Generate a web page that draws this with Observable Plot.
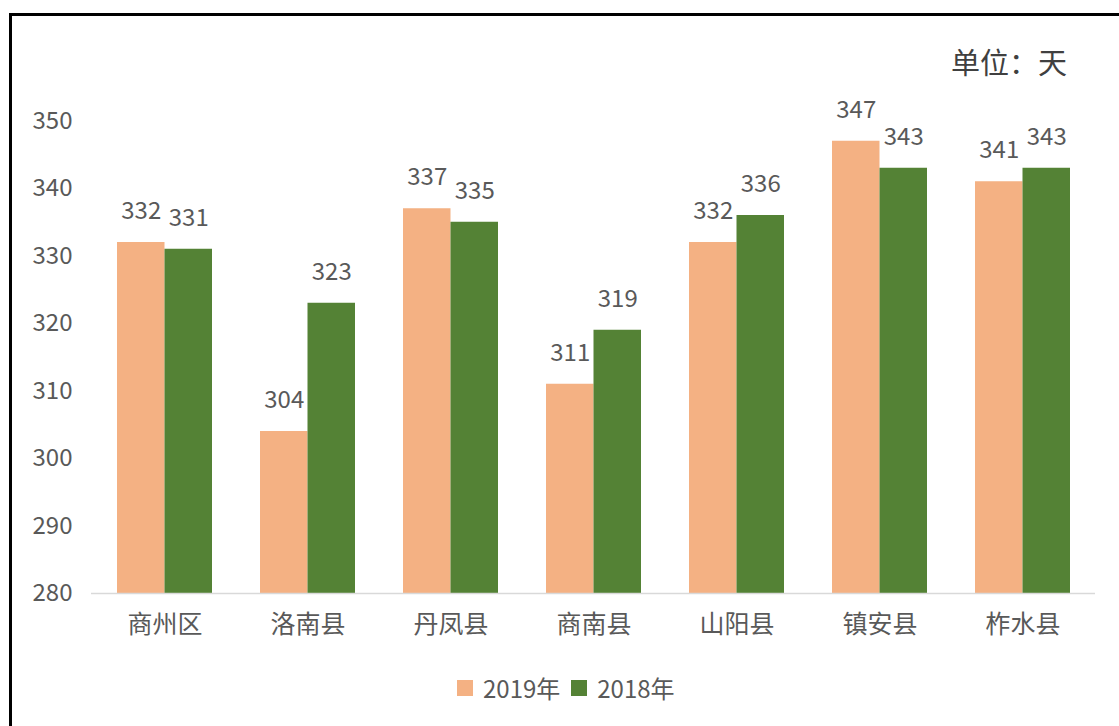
<!DOCTYPE html>
<html><head><meta charset="utf-8">
<script src="https://cdn.jsdelivr.net/npm/d3@7"></script>
<script src="https://cdn.jsdelivr.net/npm/@observablehq/plot@0.6"></script>
<style>
body{margin:0;background:#fff;width:1119px;height:726px;overflow:hidden;position:relative;font-family:"Noto Sans CJK SC",sans-serif;color:#595959}
#frame{position:absolute;left:9px;top:13px;width:1130px;height:740px;border:3px solid #000;box-sizing:border-box}
#chart{position:absolute;left:0;top:0}
#unit{position:absolute;left:951px;top:43px;font-size:29px;line-height:36px;color:#404040}
#legend{position:absolute;left:457px;top:672px;display:flex;align-items:center;font-size:24px;line-height:32px;color:#595959}
#legend .sw{width:16px;height:16px;margin-right:10px}
#legend .lab{margin-right:11px}
</style></head>
<body>
<div id="frame"></div>
<div id="chart"></div>
<div id="unit">单位：天</div>
<div id="legend"></div>
<script>
const regions = ["商州区","洛南县","丹凤县","商南县","山阳县","镇安县","柞水县"];
const values2019 = [332,304,337,311,332,347,341];
const values2018 = [331,323,335,319,336,343,343];
const years = ["2019年","2018年"];
const colors = ["#F4B183","#548235"];
const yTicks = [280,290,300,310,320,330,340,350];

const d19 = regions.map((r,i)=>({region:r, value:values2019[i]}));
const d18 = regions.map((r,i)=>({region:r, value:values2018[i]}));

const chart = Plot.plot({
  width:1119, height:650,
  marginLeft:91, marginRight:24, marginTop:120.5, marginBottom:57,
  style:{fontFamily:'"Noto Sans CJK SC", sans-serif', fontSize:"24px", color:"#595959", background:"transparent"},
  x:{domain:regions, paddingInner:0.3375, paddingOuter:0.169, axis:null, label:null},
  y:{domain:[280,350], axis:null, label:null},
  marks:[
    Plot.barY(d19,{x:"region", y1:280, y2:"value", fill:colors[0], insetRight:47.5}),
    Plot.barY(d18,{x:"region", y1:280, y2:"value", fill:colors[1], insetLeft:47.5}),
    Plot.ruleY([280],{stroke:"#D9D9D9", strokeWidth:1.5}),
    Plot.axisY({ticks:yTicks, tickSize:0, tickPadding:19, fontSize:24, label:null}),
    Plot.axisX({tickSize:0, tickPadding:22, fontSize:25, label:null}),
    Plot.text(d19,{x:"region", y:"value", text:"value", dx:-23.75, dy:-31, fontSize:24, fill:"#595959"}),
    Plot.text(d18,{x:"region", y:"value", text:"value", dx:23.75, dy:-31, fontSize:24, fill:"#595959"})
  ]
});
document.getElementById("chart").appendChild(chart);

const legend = document.getElementById("legend");
years.forEach((y,i)=>{
  const sw = document.createElement("div"); sw.className="sw"; sw.style.background=colors[i];
  const lab = document.createElement("div"); lab.className="lab"; lab.textContent=y;
  legend.appendChild(sw); legend.appendChild(lab);
});
</script>
</body></html>
